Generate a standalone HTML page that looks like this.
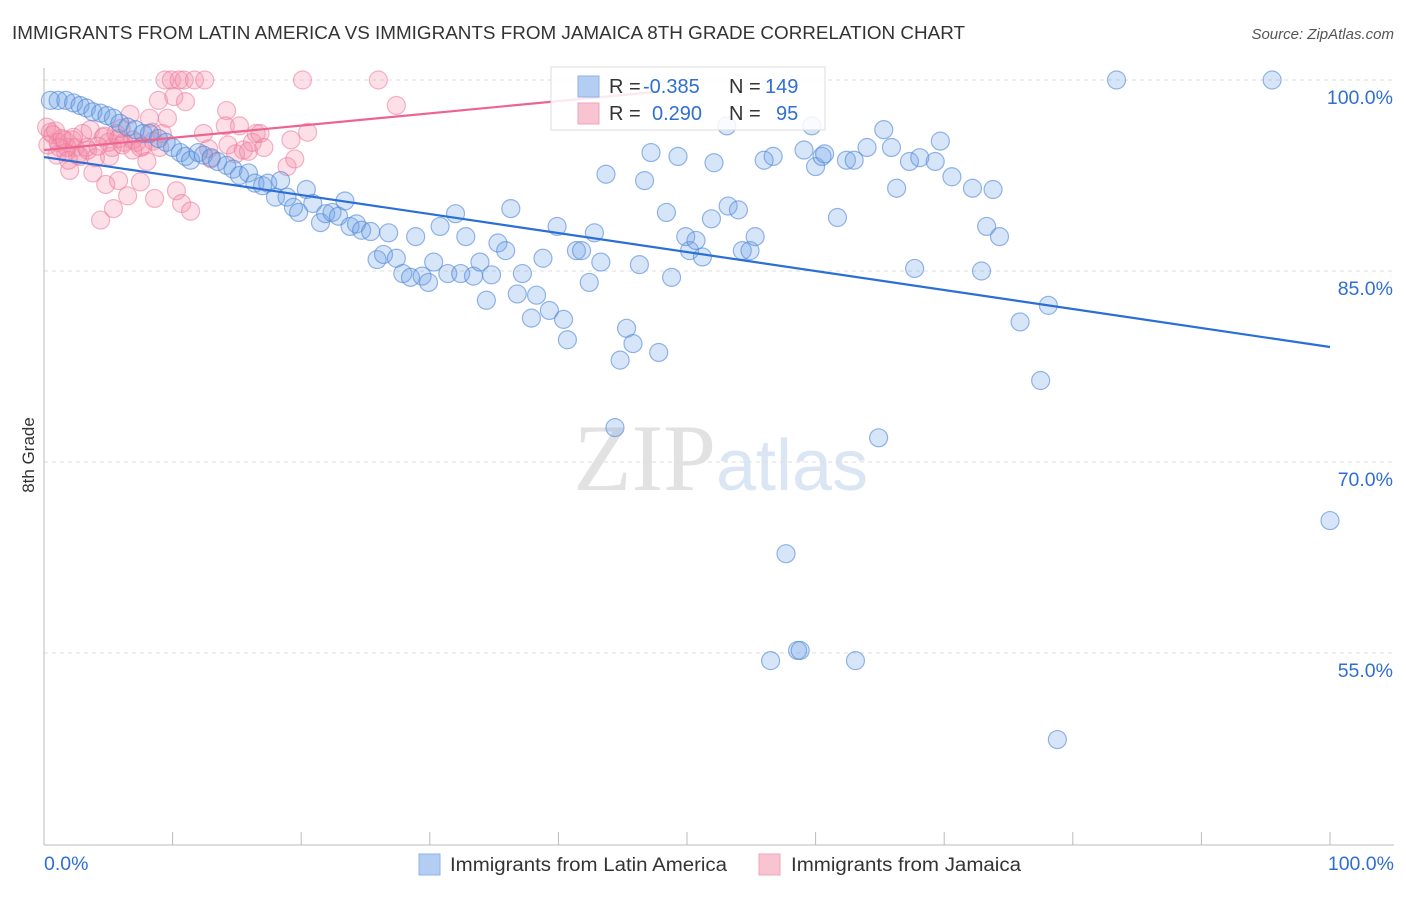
<!DOCTYPE html>
<html><head><meta charset="utf-8"><style>
body{margin:0;background:#fff;font-family:"Liberation Sans",sans-serif}
svg text{font-family:"Liberation Sans",sans-serif}
</style></head><body>
<svg id="chart" width="1406" height="892">
<text x="12" y="39" font-size="18" fill="#333" textLength="953" lengthAdjust="spacingAndGlyphs">IMMIGRANTS FROM LATIN AMERICA VS IMMIGRANTS FROM JAMAICA 8TH GRADE CORRELATION CHART</text>
<text x="1394" y="39" font-size="15" fill="#555" font-style="italic" text-anchor="end">Source: ZipAtlas.com</text>
<text x="716" y="490" font-size="95" fill="#e2e2e2" text-anchor="end" style="font-family:'Liberation Serif',serif">ZIP</text>
<text x="716" y="490" font-size="72" fill="#dbe6f4">atlas</text>
<g id="grid"></g>
<g id="pts"></g>
<g id="lines"></g>
<text x="34" y="455" font-size="17" fill="#333" text-anchor="middle" transform="rotate(-90 34 455)">8th Grade</text>
<g>
<rect x="551" y="67" width="274" height="63" fill="rgba(255,255,255,0.85)" stroke="#ddd"/>
<rect x="578" y="76" width="21" height="21" fill="#b4cdf2" stroke="#8fb2e8"/>
<rect x="578" y="103" width="21" height="21" fill="#f9c4d2" stroke="#f0a5ba"/>
<text x="609" y="93" font-size="20" fill="#333">R = <tspan fill="#2f6fd1" x="643">-0.385</tspan></text>
<text x="729" y="93" font-size="20" fill="#333">N = <tspan fill="#2f6fd1" x="765">149</tspan></text>
<text x="609" y="120" font-size="20" fill="#333">R = <tspan fill="#2f6fd1" x="652">0.290</tspan></text>
<text x="729" y="120" font-size="20" fill="#333">N = <tspan fill="#2f6fd1" x="776">95</tspan></text>
</g>
<g>
<rect x="419" y="854" width="21" height="21" fill="#b4cdf2" stroke="#8fb2e8"/>
<text x="450" y="871" font-size="19" fill="#333" textLength="277" lengthAdjust="spacingAndGlyphs">Immigrants from Latin America</text>
<rect x="759" y="854" width="21" height="21" fill="#f9c4d2" stroke="#f0a5ba"/>
<text x="791" y="871" font-size="19" fill="#333" textLength="230" lengthAdjust="spacingAndGlyphs">Immigrants from Jamaica</text>
</g>
<text x="44" y="870" font-size="19.5" fill="#2f6fd1">0.0%</text>
<text x="1394" y="870" font-size="19.5" fill="#2f6fd1" text-anchor="end">100.0%</text>
</svg>
<script>
const yTicks=[100,85,70,55];
const yTickLabels=["100.0%","85.0%","70.0%","55.0%"];
const latinX=[0.5,1.1,1.7,2.3,2.8,3.3,3.8,4.4,4.9,5.4,5.9,6.5,7.1,7.7,8.2,8.9,9.5,10.0,10.6,11.0,11.4,12.0,12.4,13.0,13.5,14.2,14.7,15.2,15.9,16.4,17.0,17.4,18.0,18.4,18.9,19.4,19.8,20.4,20.9,21.5,21.9,22.4,22.9,23.4,23.8,24.3,24.7,25.4,25.9,26.4,26.8,27.4,27.9,28.5,28.9,29.4,29.9,30.3,30.8,31.4,32.0,32.4,32.8,33.4,33.9,34.4,34.8,35.3,35.9,36.3,36.8,37.2,37.9,38.3,38.8,39.3,39.9,40.4,40.7,41.4,41.8,42.4,42.8,43.3,43.7,44.4,44.8,45.3,45.8,46.3,46.7,47.2,47.8,48.4,48.8,49.3,49.9,50.2,50.7,51.2,51.9,52.1,53.1,53.2,54.0,54.3,54.9,55.3,56.0,56.5,56.7,57.7,58.6,58.8,59.1,59.7,60.0,60.5,60.7,61.7,62.4,63.0,63.1,64.0,64.9,65.3,65.9,66.3,67.3,67.7,68.1,69.3,69.7,70.6,72.2,72.9,73.3,73.8,74.3,75.9,77.5,78.1,78.8,83.4,95.5,100];
const latinY=[98.4,98.4,98.4,98.2,98.0,97.8,97.5,97.4,97.2,97.0,96.6,96.3,96.1,95.8,95.8,95.4,95.1,94.7,94.3,94.0,93.7,94.3,94.1,93.9,93.6,93.3,93.0,92.5,92.7,91.9,91.7,91.9,90.8,92.1,90.8,90.0,89.6,91.4,90.3,88.8,89.5,89.6,89.3,90.5,88.5,88.7,88.2,88.1,85.9,86.3,88.0,86.0,84.8,84.5,87.7,84.6,84.1,85.7,88.5,84.8,89.5,84.8,87.7,84.6,85.7,82.7,84.7,87.2,86.6,89.9,83.2,84.8,81.3,83.1,86.0,81.9,88.5,81.2,79.6,86.6,86.6,84.1,88.0,85.7,92.6,72.7,78.0,80.5,79.3,85.5,92.1,94.3,78.6,89.6,84.5,94.0,87.7,86.6,87.4,86.1,89.1,93.5,96.4,90.1,89.8,86.6,86.6,87.7,93.7,54.4,94.0,62.8,55.2,55.2,94.5,96.4,93.2,94.0,94.2,89.2,93.7,93.7,54.4,94.7,71.9,96.1,94.7,91.5,93.6,85.2,93.9,93.6,95.2,92.4,91.5,85.0,88.5,91.4,87.7,81.0,76.4,82.3,48.2,100,100,65.4];
const jamX=[0.2,0.5,0.7,0.9,1.1,1.2,1.6,1.7,2.0,2.2,2.4,2.6,2.8,3.0,3.3,3.6,3.8,4.0,4.4,4.6,4.8,5.1,5.3,5.4,5.6,5.8,6.0,6.2,6.5,6.7,6.9,7.2,7.5,7.7,8.0,8.2,8.4,8.6,8.9,9.2,9.4,9.6,9.9,10.1,10.3,10.5,10.7,10.9,11.0,11.4,11.7,12.5,12.4,12.8,13.0,14.2,14.1,14.3,14.9,15.2,15.5,15.9,16.2,16.5,16.8,17.1,18.9,19.2,19.5,20.1,20.5,26.0,27.4,1.8,2.3,3.4,5.0,5.8,6.1,6.9,7.5,8.5,9.0,4.7,4.2,1.4,0.3,1.0,1.9];
const jamY=[96.3,95.9,95.7,96.0,95.1,94.7,95.3,94.3,92.9,95.3,94.7,94.1,94.0,95.8,94.7,96.1,92.7,93.9,89.0,95.5,91.8,94.0,94.7,89.9,95.8,92.1,96.2,95.1,90.9,97.3,95.3,95.1,92.0,94.8,93.6,97.0,95.9,90.7,98.4,95.8,100,97.0,100,98.7,91.3,100,90.3,100,98.3,89.7,100,100,95.8,94.6,93.8,97.6,96.4,94.9,94.2,96.4,94.5,94.4,95.1,95.8,95.8,94.7,93.2,95.3,93.8,100,95.9,100,98.0,94.7,95.5,94.5,95.1,95.4,94.9,94.5,94.7,95.2,94.7,95.6,94.8,95.4,94.9,94.1,93.7];
const latinTrend=[[0,93.95],[100,79.03]];
const jamTrend=[[0,94.5],[47.9,99.1]];

const NS="http://www.w3.org/2000/svg";
const X0=44,X1=1330,Y100=80,PXPER=191/15;
const sx=v=>X0+(X1-X0)*v/100;
const sy=v=>Y100+(100-v)*PXPER;
function mk(t,a,p){const e=document.createElementNS(NS,t);for(const k in a)e.setAttribute(k,a[k]);p.appendChild(e);return e;}
const grid=document.getElementById('grid');
yTicks.forEach((t,i)=>{
  const l=mk('line',{x1:X0,x2:1394,y1:sy(t),y2:sy(t),stroke:'#ddd','stroke-dasharray':'4,4'},grid);
  
  
  const tx=mk('text',{x:1393,y:sy(t)+24,'font-size':19.5,fill:'#2f6fd1','text-anchor':'end'},grid);
  tx.textContent=yTickLabels[i];
  
  
});
const ax=mk('line',{x1:X0,x2:X0,y1:68,y2:845,stroke:'#bbb'},grid);


const bx=mk('line',{x1:X0,x2:1394,y1:845,y2:845,stroke:'#bbb'},grid);


for(let i=0;i<=10;i++){
  const t=mk('line',{x1:sx(i*10),x2:sx(i*10),y1:832,y2:845,stroke:'#bbb'},grid);
  
  
}
const pts=document.getElementById('pts');
jamX.forEach((x,i)=>{
  const c=mk('circle',{cx:sx(x),cy:sy(jamY[i]),r:9,fill:'rgba(245,140,170,0.28)',stroke:'rgba(235,120,155,0.55)','stroke-width':1.2},pts);
  
  
});
latinX.forEach((x,i)=>{
  const c=mk('circle',{cx:sx(x),cy:sy(latinY[i]),r:9,fill:'rgba(110,160,230,0.28)',stroke:'rgba(80,135,215,0.6)','stroke-width':1.2},pts);
  
  
});
const lines=document.getElementById('lines');
const l1=mk('line',{x1:sx(latinTrend[0][0]),y1:sy(latinTrend[0][1]),x2:sx(latinTrend[1][0]),y2:sy(latinTrend[1][1]),stroke:'#2a6fd6','stroke-width':2.2},lines);


const l2=mk('line',{x1:sx(jamTrend[0][0]),y1:sy(jamTrend[0][1]),x2:sx(jamTrend[1][0]),y2:sy(jamTrend[1][1]),stroke:'#ec6590','stroke-width':2.2},lines);


</script>
</body></html>
